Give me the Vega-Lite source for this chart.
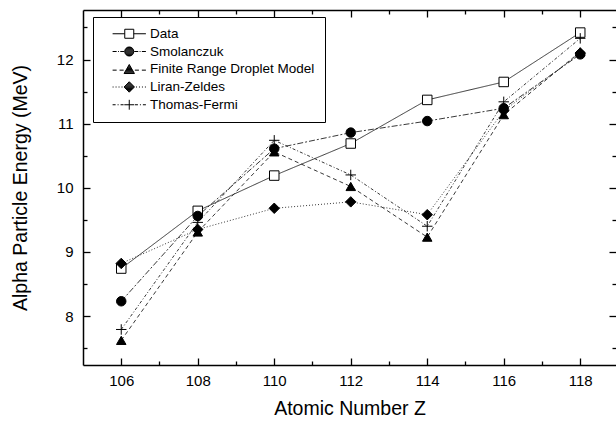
{
  "$schema": "https://vega.github.io/schema/vega-lite/v6.json",
  "autosize": {"type": "none"},
  "width": 533,
  "height": 355,
  "padding": {"left": 83, "top": 10, "right": 0, "bottom": 57},
  "background": "white",
  "config": {
    "view": {"stroke": null},
    "font": "Liberation Sans",
    "axis": {"domainColor": "black", "domainWidth": 1.5, "tickColor": "black", "tickWidth": 1.3, "labelColor": "black", "titleColor": "black", "labelFont": "Liberation Sans", "titleFont": "Liberation Sans", "labelFontSize": 15, "titleFontSize": 19.5, "titleFontWeight": "normal", "grid": false},
    "legend": {"labelFont": "Liberation Sans"}
  },
  "data": {"values": [
    {"series": "Data", "z": 106, "energy": 8.74},
    {"series": "Data", "z": 108, "energy": 9.64},
    {"series": "Data", "z": 110, "energy": 10.19},
    {"series": "Data", "z": 112, "energy": 10.69},
    {"series": "Data", "z": 114, "energy": 11.37},
    {"series": "Data", "z": 116, "energy": 11.65},
    {"series": "Data", "z": 118, "energy": 12.42},
    {"series": "Smolanczuk", "z": 106, "energy": 8.23},
    {"series": "Smolanczuk", "z": 108, "energy": 9.56},
    {"series": "Smolanczuk", "z": 110, "energy": 10.61},
    {"series": "Smolanczuk", "z": 112, "energy": 10.86},
    {"series": "Smolanczuk", "z": 114, "energy": 11.04},
    {"series": "Smolanczuk", "z": 116, "energy": 11.24},
    {"series": "Smolanczuk", "z": 118, "energy": 12.08},
    {"series": "Finite Range Droplet Model", "z": 106, "energy": 7.62},
    {"series": "Finite Range Droplet Model", "z": 108, "energy": 9.31},
    {"series": "Finite Range Droplet Model", "z": 110, "energy": 10.56},
    {"series": "Finite Range Droplet Model", "z": 112, "energy": 10.02},
    {"series": "Finite Range Droplet Model", "z": 114, "energy": 9.23},
    {"series": "Finite Range Droplet Model", "z": 116, "energy": 11.14},
    {"series": "Finite Range Droplet Model", "z": 118, "energy": 12.12},
    {"series": "Liran-Zeldes", "z": 106, "energy": 8.82},
    {"series": "Liran-Zeldes", "z": 108, "energy": 9.35},
    {"series": "Liran-Zeldes", "z": 110, "energy": 9.68},
    {"series": "Liran-Zeldes", "z": 112, "energy": 9.78},
    {"series": "Liran-Zeldes", "z": 114, "energy": 9.58},
    {"series": "Liran-Zeldes", "z": 116, "energy": 11.2},
    {"series": "Liran-Zeldes", "z": 118, "energy": 12.1},
    {"series": "Thomas-Fermi", "z": 106, "energy": 7.79},
    {"series": "Thomas-Fermi", "z": 108, "energy": 9.46},
    {"series": "Thomas-Fermi", "z": 110, "energy": 10.74},
    {"series": "Thomas-Fermi", "z": 112, "energy": 10.2},
    {"series": "Thomas-Fermi", "z": 114, "energy": 9.4},
    {"series": "Thomas-Fermi", "z": 116, "energy": 11.34},
    {"series": "Thomas-Fermi", "z": 118, "energy": 12.33}
  ]},
  "layer": [
    {
      "mark": {"type": "line", "stroke": "#222", "strokeWidth": 0.9},
      "encoding": {
        "x": {"field": "z", "type": "quantitative", "scale": {"domain": [105, 118.935], "nice": false, "zero": false},
          "axis": {"orient": "bottom", "title": "Atomic Number Z", "values": [106,107,108,109,110,111,112,113,114,115,116,117,118],
            "tickSize": {"condition": {"test": "datum.value % 2 === 0", "value": -7}, "value": -4},
            "labelExpr": "datum.value % 2 === 0 ? datum.label : ''", "labelPadding": 15, "titlePadding": 11}},
        "y": {"field": "energy", "type": "quantitative", "scale": {"domain": [7.236, 12.772], "nice": false, "zero": false},
          "axis": {"orient": "left", "title": "Alpha Particle Energy (MeV)", "values": [7.5,8,8.5,9,9.5,10,10.5,11,11.5,12,12.5],
            "tickSize": {"condition": {"test": "datum.value % 1 === 0", "value": -7}, "value": -4},
            "labelExpr": "datum.value % 1 === 0 ? format(datum.value, 'd') : ''", "labelPadding": 17, "titlePadding": 26}},
        "strokeDash": {"field": "series", "type": "nominal", "legend": null,
          "scale": {"domain": ["Data","Smolanczuk","Finite Range Droplet Model","Liran-Zeldes","Thomas-Fermi"],
            "range": [[1,0],[6,2,2,2],[4,3],[1,2],[3,2,1,2]]}}
      }
    },
    {
      "mark": {"type": "point", "filled": true, "stroke": "black", "strokeWidth": 1, "opacity": 1, "size": 90},
      "encoding": {
        "x": {"field": "z", "type": "quantitative",
          "axis": {"orient": "top", "title": null, "labels": false, "values": [106,107,108,109,110,111,112,113,114,115,116,117,118],
            "tickSize": {"condition": {"test": "datum.value % 2 === 0", "value": -7}, "value": -4}}},
        "y": {"field": "energy", "type": "quantitative",
          "axis": {"orient": "right", "title": null, "labels": false, "domain": false, "values": [7.5,8,8.5,9,9.5,10,10.5,11,11.5,12,12.5],
            "tickSize": {"condition": {"test": "datum.value % 1 === 0", "value": -7}, "value": -4}}},
        "shape": {"field": "series", "type": "nominal", "legend": null,
          "scale": {"domain": ["Thomas-Fermi","Liran-Zeldes","Finite Range Droplet Model","Smolanczuk","Data"],
            "range": ["M-1.1,0H1.1M0,-1.1V1.1","M-1.1,0L0,-1.1L1.1,0L0,1.1Z","triangle-up","circle","square"]}},
        "fill": {"field": "series", "type": "nominal", "legend": null,
          "scale": {"domain": ["Data","Thomas-Fermi","Liran-Zeldes","Smolanczuk","Finite Range Droplet Model"],
            "range": ["white","black","black","black","black"]}}
      }
    },
    {
      "transform": [{"filter": "false"}],
      "mark": {"type": "point", "filled": false, "color": "black", "strokeWidth": 1, "opacity": 1},
      "encoding": {
        "shape": {"field": "series", "type": "nominal", "title": null,
          "scale": {"domain": ["Data","Smolanczuk","Finite Range Droplet Model","Liran-Zeldes","Thomas-Fermi"],
            "range": [
              "M-3.7,0H-1M1,0H3.7M-1,-1H1V1H-1Z",
              "M-3.7,0H-2.8M-2.5,0H-2.3M-2,0H-1.1M1.1,0H2M2.3,0H2.5M2.8,0H3.7M-1,0A1,1 0 1,1 1,0A1,1 0 1,1 -1,0ZM-0.44,-0.9H0.44M-0.71,-0.7H0.71M-0.87,-0.5H0.87M-0.95,-0.3H0.95M-1,-0.1H1M-1,0.1H1M-0.95,0.3H0.95M-0.87,0.5H0.87M-0.71,0.7H0.71M-0.44,0.9H0.44",
              "M-3.7,0.2H-2.8M-2.15,0.2H-1.25M1.25,0.2H2.15M2.8,0.2H3.7M0,-1.05L1.15,0.95L-1.15,0.95ZM-0.06,-0.95H0.06M-0.17,-0.75H0.17M-0.29,-0.55H0.29M-0.4,-0.35H0.4M-0.52,-0.15H0.52M-0.63,0.05H0.63M-0.75,0.25H0.75M-0.86,0.45H0.86M-0.98,0.65H0.98M-1.09,0.85H1.09",
              "M-3.7,0H-3.48M-3.04,0H-2.82M-2.38,0H-2.16M-1.72,0H-1.5M1.5,0H1.72M2.16,0H2.38M2.82,0H3.04M3.48,0H3.7M-1.15,0L0,-1.15L1.15,0L0,1.15ZM-0.1,-1.05H0.1M-0.3,-0.85H0.3M-0.5,-0.65H0.5M-0.7,-0.45H0.7M-0.9,-0.25H0.9M-1.1,-0.05H1.1M-1,0.15H1M-0.8,0.35H0.8M-0.6,0.55H0.6M-0.4,0.75H0.4M-0.2,0.95H0.2",
              "M-3.7,0H-3.03M-2.59,0H-2.37M-1.93,0H-1.26M1.26,0H1.93M2.37,0H2.59M3.03,0H3.7M-1.1,0H1.1M0,-1.1V1.1"
            ]},
          "legend": {"title": null, "orient": "none", "legendX": 10, "legendY": 7, "padding": 10,
            "strokeColor": "black", "fillColor": "white", "labelFontSize": 13.5, "labelColor": "black", "labelLimit": 300,
            "symbolSize": 81, "symbolOffset": 19.5, "labelOffset": 14, "rowPadding": 2.75,
            "symbolOpacity": 1, "symbolStrokeWidth": 1, "symbolStrokeColor": "black"}}
      }
    }
  ],
  "resolve": {"scale": {"shape": "independent", "fill": "independent"}, "axis": {"x": "independent", "y": "independent"}}
}
